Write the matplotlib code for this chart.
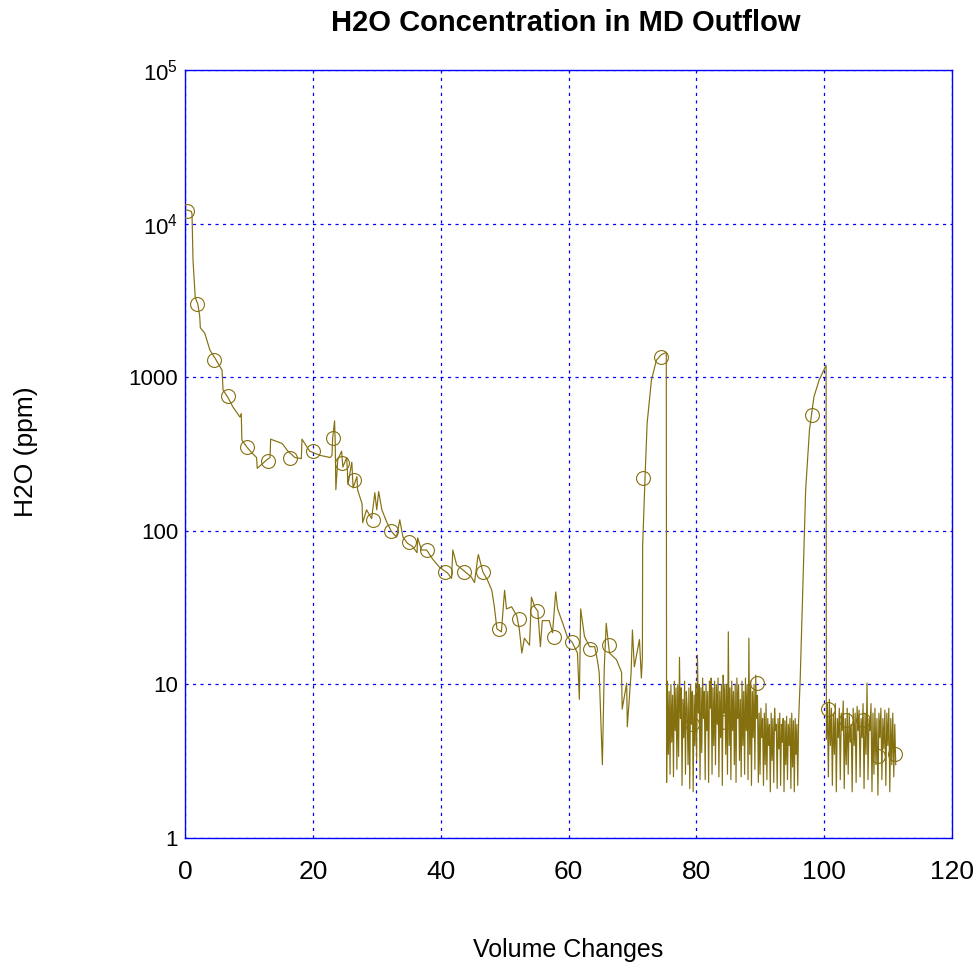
import numpy as np
import matplotlib
matplotlib.use("Agg")
import matplotlib.pyplot as plt
from matplotlib.ticker import FixedLocator, FixedFormatter, NullLocator

plt.rcParams['font.family'] = ['Liberation Sans', 'DejaVu Sans']
plt.rcParams['mathtext.fontset'] = 'custom'
plt.rcParams['mathtext.rm'] = 'Liberation Sans'

# ---- data (x = volume changes, y = H2O ppm) ----
main_x = [0.2, 1.0, 1.1, 1.25, 1.6, 2.0, 2.3, 2.4, 3.1, 3.9, 4.7, 5.8, 5.95, 6.7, 7.5, 8.6, 8.8, 8.9,
          9.7, 10.5, 11.2, 11.3, 12.8, 13.3, 13.4, 15.2, 16.1, 17.2, 18.2, 18.3, 19.5, 21.1, 22.7,
          23.0, 23.1, 23.4, 23.5, 23.6, 23.9, 24.5, 24.7, 25.3, 25.5, 26.1, 26.3, 26.9, 27.0, 27.7,
          27.8, 28.4, 29.2, 29.7, 30.0, 30.3, 30.8, 31.6, 32.3, 33.1, 33.6, 34.1, 34.8, 35.6, 36.3,
          36.4, 37.0, 37.8, 38.8, 39.8, 41.1, 41.7, 41.9, 42.5, 43.4, 44.8, 45.3, 45.8, 45.9, 46.6,
          47.3, 48.0, 48.4, 48.8, 49.5, 50.0, 50.3, 51.1, 51.9, 52.3, 52.7, 53.1, 53.9, 54.2, 54.7,
          55.2, 55.6, 55.9, 57.0, 57.5, 58.0, 58.3, 59.1, 59.8, 60.6, 61.4, 61.7, 61.9, 62.5, 63.3,
          64.1, 64.5, 64.8, 65.3, 65.6, 65.9, 66.4, 67.5, 68.3, 68.4, 69.1, 69.2, 69.8, 70.0, 70.3,
          71.1, 71.4, 71.56, 71.6, 71.98, 72.3, 72.97, 73.75, 74.5, 75.3]
main_y = [12300, 12000, 11500, 5800, 3300, 3000, 2500, 2100, 1930, 1500, 1330, 1110, 825, 740, 640,
          550, 580, 390, 350, 320, 300, 255, 290, 300, 395, 370, 330, 300, 295, 395, 330, 310, 300,
          310, 400, 520, 380, 185, 290, 330, 260, 300, 200, 280, 190, 225, 185, 150, 113, 137, 120,
          177, 137, 180, 137, 113, 99, 91, 118, 91, 83, 79, 72, 90, 75, 75, 65, 58, 53, 49, 75, 60,
          56, 50, 46, 67, 70, 54, 48, 41, 32, 23, 22, 41, 31, 32, 28, 23, 16, 20, 18, 37, 32, 30,
          17.6, 26, 26, 21.7, 40, 31, 25, 20.5, 18.7, 16, 8, 31, 20.5, 17.6, 17.6, 14.5, 12, 3.0, 13,
          25, 16, 14.5, 12, 6.9, 10.2, 5.3, 12, 22.6, 13, 19.6, 11, 15, 80, 225, 500, 955, 1290,
          1400, 1450]

noise1_range = (75.35, 96.0)
noise1_y = [2.3, 10.5, 3.5, 9, 2.6, 10, 4.2, 8.5, 2.5, 10.5, 5.0, 9.5, 2.8, 10, 3.4, 15, 6.0, 9.5, 2.2, 8.0,
            4.5, 10.5, 2.6, 9.0, 7.0, 3.0, 9.5, 2.1, 10, 5.5, 9.0, 2.0, 8.5, 4.0, 10.2, 3.2, 15.5, 6.5, 10, 2.4,
            9.5, 3.6, 11, 6.0, 9.0, 2.4, 10, 5.0, 9.0, 2.3, 10.5, 7.0, 11, 2.6, 9.5, 4.0, 10.5, 3.0, 10, 5.5,
            11, 2.5, 9.0, 4.5, 10, 2.2, 11.5, 6.5, 10, 3.5, 10, 2.6, 22, 4.0, 9.5, 2.4, 10.5, 5.0, 9.0, 3.0,
            10, 2.3, 11, 6.0, 10, 3.2, 8.0, 2.5, 10.5, 4.0, 9.0, 2.6, 11, 5.0, 10, 2.4, 20, 3.5, 10.5, 2.2,
            9.0, 4.5, 10, 2.8, 11.5, 6.0, 8.5, 2.3,
            6.5, 2.6, 7.0, 4.5, 6.0, 2.2, 6.5, 3.0, 7.5, 2.4, 6.0, 4.0, 5.5, 2.0, 6.5, 3.2, 6.0, 2.3, 7.0, 5.0,
            5.5, 2.1, 6.0, 3.8, 6.5, 2.2, 5.5, 4.2, 6.0, 2.0, 5.8, 3.0, 6.2, 2.4, 5.5, 4.0, 6.0, 2.1, 6.5, 2.9,
            5.8, 2.0, 6.0, 3.5, 5.5, 2.2, 5.8]

rise2_x = [96.25, 97.1, 97.7, 98.4, 99.2, 100.3]
rise2_y = [10.8, 184, 453, 745, 955, 1197]

noise2_range = (100.35, 111.2)
noise2_y = [4.4, 7.5, 2.5, 8.0, 4.0, 7.0, 2.2, 6.5, 3.5, 7.5, 2.0, 6.0, 4.5, 7.0, 2.4, 6.5, 5.0, 7.8, 2.1, 6.0,
            3.0, 7.0, 2.6, 6.5, 4.2, 5.5, 2.0, 7.0, 4.0, 6.5, 2.3, 7.2, 5.0, 6.8, 2.5, 6.0, 4.5, 7.5, 2.1, 6.5,
            3.5, 10.2, 2.4, 6.0, 5.0, 7.5, 2.0, 6.5, 2.6, 7.0, 3.0, 6.0, 1.9, 6.5, 4.5, 7.0, 2.4, 6.0, 3.8, 6.8,
            2.2, 6.5, 4.0, 7.0, 2.0, 6.0, 3.0, 6.5, 2.5, 5.5, 3.0]

marker_x = [0.3, 1.9, 4.5, 6.7, 9.7, 13.0, 16.4, 20.0, 23.1, 24.5, 26.5, 29.4, 32.2, 35.0, 37.8,
            40.6, 43.7, 46.6, 49.2, 52.2, 55.0, 57.7, 60.6, 63.4, 66.4, 71.7, 74.4, 79.4, 84.5,
            89.5, 98.1, 100.6, 103.4, 106.1, 108.4, 111.1]
marker_y = [12000, 3000, 1300, 750, 350, 285, 300, 330, 400, 275, 215, 118, 100, 84, 75, 54, 54,
            54, 23, 26.5, 30, 20.5, 19, 17, 18, 220, 1350, 5.5, 5.7, 10.2, 570, 6.9, 5.9, 5.9, 3.4,
            3.5]

y_ticks = [1, 10, 100, 1000, 1e4, 1e5]
y_ticklabels = ['1', '10', '100', '1000', r'$\mathregular{10^4}$', r'$\mathregular{10^5}$']
x_ticks = [0, 20, 40, 60, 80, 100, 120]

# ---- assemble the trace ----
n1x = np.linspace(noise1_range[0], noise1_range[1], len(noise1_y))
n2x = np.linspace(noise2_range[0], noise2_range[1], len(noise2_y))
tx = np.concatenate([main_x, n1x, rise2_x, n2x])
ty = np.concatenate([main_y, noise1_y, rise2_y, noise2_y])

color = '#85700F'
fig = plt.figure(figsize=(9.8, 9.74), dpi=100)
ax = fig.add_axes([185/980, 1 - 838/974, (952-185)/980, (838-70)/974])

ax.plot(tx, ty, color=color, lw=0.85, zorder=3)
ax.plot(marker_x, marker_y, linestyle='none', marker='o', ms=10, mfc='none',
        mec=color, mew=0.8, zorder=4)

ax.set_yscale('log')
ax.set_xlim(0, 120)
ax.set_ylim(1, 1e5)
ax.xaxis.set_major_locator(FixedLocator(x_ticks))
ax.yaxis.set_major_locator(FixedLocator(y_ticks))
ax.yaxis.set_major_formatter(FixedFormatter(y_ticklabels))
ax.yaxis.set_minor_locator(NullLocator())
ax.xaxis.set_minor_locator(NullLocator())
ax.tick_params(axis='both', length=0)
ax.tick_params(axis='x', labelsize=19, pad=16)
ax.tick_params(axis='y', labelsize=16, pad=5)

ax.grid(True, color='#0000FF', linestyle=(0, (2.5, 3.5)), lw=0.9)
for s in ax.spines.values():
    s.set_color('#0000FF')
    s.set_linewidth(1.0)

fig.text(566/980, 1 - 23/974, 'H2O Concentration in MD Outflow', ha='center', va='center',
         fontsize=21, fontweight='bold')
fig.text(568/980, 1 - 950/974, 'Volume Changes', ha='center', va='center', fontsize=18)
fig.text(26/980, 1 - 452/974, 'H2O (ppm)', ha='center', va='center', fontsize=19, rotation=90)

fig.savefig('out.png', dpi=100)
